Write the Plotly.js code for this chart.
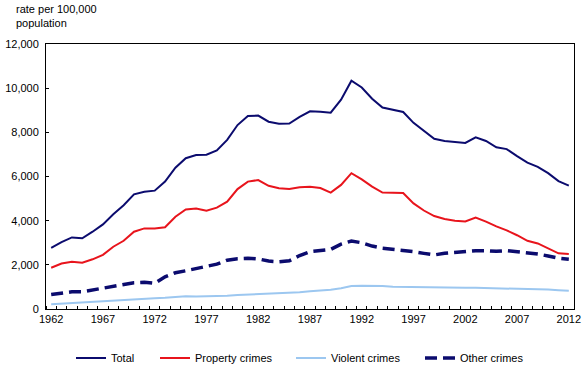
<!DOCTYPE html>
<html>
<head>
<meta charset="utf-8">
<script src="https://cdn.plot.ly/plotly-3.0.1.min.js"></script>
<style>html,body{margin:0;padding:0;background:#fff;}#chart{width:585px;height:366px;}</style>
</head>
<body>
<div id="chart"></div>
<script>
var years = [];
for (var y = 1962; y <= 2012; y++) years.push(y);
var tickYears = [1962, 1967, 1972, 1977, 1982, 1987, 1992, 1997, 2002, 2007, 2012];

var total = [2770,3030,3240,3200,3500,3830,4290,4700,5190,5310,5360,5770,6400,6830,6970,6990,7180,7660,8330,8740,8760,8480,8390,8400,8700,8950,8930,8890,9480,10340,10030,9520,9120,9030,8920,8430,8090,7710,7610,7570,7520,7770,7610,7320,7240,6920,6630,6440,6150,5790,5590];
var property = [1870,2060,2140,2100,2250,2450,2820,3090,3500,3650,3650,3700,4180,4510,4550,4450,4590,4860,5430,5770,5840,5580,5470,5430,5510,5540,5480,5270,5620,6150,5870,5540,5270,5270,5250,4780,4460,4210,4080,4000,3960,4140,3960,3740,3560,3340,3090,2970,2750,2520,2490];
var violent = [220,250,280,300,330,360,390,420,450,470,490,510,550,580,570,570,570,600,630,650,670,680,700,730,760,800,830,870,940,1040,1050,1050,1040,1010,1000,980,970,970,970,970,960,960,950,960,950,930,910,900,880,850,830];
var other = [660,710,780,780,860,970,1060,1130,1190,1210,1160,1460,1640,1730,1840,1960,2030,2210,2280,2300,2270,2170,2140,2180,2420,2600,2640,2700,2940,3080,3000,2850,2750,2700,2670,2600,2520,2450,2520,2570,2590,2640,2640,2610,2640,2600,2550,2490,2400,2300,2250];

var F = "Liberation Sans, Arial, sans-serif";
var traces = [
  {x: years, y: total, name: "Total", type: "scatter", mode: "lines", line: {color: "#0b0b6e", width: 2}, legend: "legend"},
  {x: years, y: property, name: "Property crimes", type: "scatter", mode: "lines", line: {color: "#e8141c", width: 2}, legend: "legend2"},
  {x: years, y: violent, name: "Violent crimes", type: "scatter", mode: "lines", line: {color: "#9cc7f0", width: 2}, legend: "legend3"},
  {x: years, y: other, name: "Other crimes", type: "scatter", mode: "lines", line: {color: "#0b0b6e", width: 3.5, dash: "12px,6px"}, legend: "legend4"}
];

var plotL = 46, plotW = 528, plotB = 309, plotH = 265;
function leg(px) {
  return {orientation: "h", x: (px - plotL) / plotW, xanchor: "left",
          y: (plotB - 358) / plotH, yanchor: "middle",
          font: {family: F, size: 11, color: "#000"}, itemwidth: 30, bgcolor: "rgba(0,0,0,0)"};
}

var layout = {
  width: 585, height: 366,
  margin: {l: 46, r: 11, t: 44, b: 57, autoexpand: false},
  paper_bgcolor: "#fff", plot_bgcolor: "#fff",
  font: {family: F, size: 11, color: "#000"},
  showlegend: true,
  legend: leg(71), legend2: leg(155), legend3: leg(291), legend4: leg(420),
  xaxis: {
    range: [1961.5, 2012.5], showgrid: false, zeroline: false,
    showline: true, linecolor: "#000", linewidth: 1, mirror: true,
    tickvals: tickYears, ticktext: tickYears.map(String), ticks: "",
    tickfont: {family: F, size: 11, color: "#000"},
    minor: {tick0: 1961.5, dtick: 1, ticks: "inside", ticklen: 3, tickcolor: "#000", tickwidth: 1, showgrid: false}
  },
  yaxis: {
    range: [0, 12000], dtick: 2000, tickformat: ",", showgrid: false, zeroline: false,
    showline: true, linecolor: "#000", linewidth: 1, mirror: true,
    ticks: "inside", ticklen: 3, tickcolor: "#000", ticklabelstandoff: 4,
    tickfont: {family: F, size: 11, color: "#000"}
  },
  annotations: [
    {text: "rate per 100,000<br>population", xref: "paper", yref: "paper", x: -0.061, y: 1.0, yshift: 43,
     xanchor: "left", yanchor: "top", align: "left", showarrow: false,
     font: {family: F, size: 11, color: "#000"}}
  ]
};

Plotly.newPlot("chart", traces, layout, {displayModeBar: false, staticPlot: true});
</script>
</body>
</html>
